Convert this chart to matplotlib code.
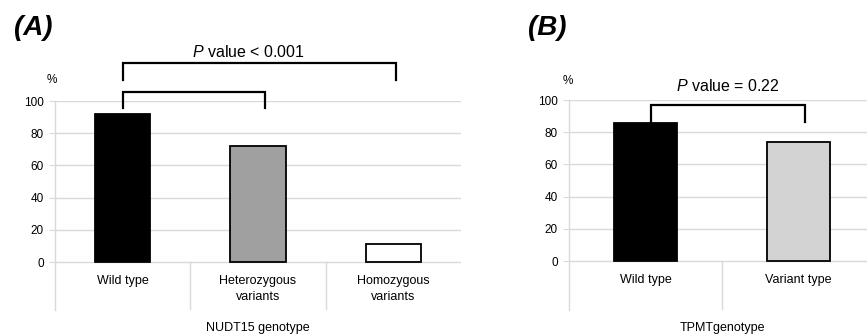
import matplotlib
matplotlib.use("Agg")
import matplotlib.pyplot as plt

plt.rcParams['font.family'] = ['Liberation Sans', 'DejaVu Sans']
plt.rcParams['mathtext.fontset'] = 'custom'
plt.rcParams['mathtext.rm'] = 'Liberation Sans'
plt.rcParams['mathtext.it'] = 'Liberation Sans:italic'

# data
nudt_labels = ['Wild type', 'Heterozygous\nvariants', 'Homozygous\nvariants']
nudt_values = [92, 72, 11]
nudt_colors = ['#000000', '#a0a0a0', '#ffffff']

tpmt_labels = ['Wild type', 'Variant type']
tpmt_values = [86, 74]
tpmt_colors = ['#000000', '#d3d3d3']

yticks = [0, 20, 40, 60, 80, 100]
grid_col = '#d9d9d9'
W, H = 867, 336

fig = plt.figure(figsize=(W / 100, H / 100), dpi=100)


def panel(rect, labels, values, colors, ybottom, xlabel):
    ax = fig.add_axes(rect)
    n = len(values)
    x = list(range(n))
    ax.bar(x, values, width=0.41, color=colors, edgecolor='black', linewidth=1.3, zorder=3)
    ax.set_xlim(-0.5, n - 0.5)
    ax.set_ylim(ybottom, 100)
    ax.set_yticks(yticks)
    ax.set_yticklabels([str(t) for t in yticks], fontsize=8.5)
    ax.tick_params(axis='y', length=4, color=grid_col, pad=4)
    ax.set_xticks([])
    for s in ['top', 'right', 'bottom']:
        ax.spines[s].set_visible(False)
    ax.spines['left'].set_color(grid_col)
    ax.spines['left'].set_linewidth(1)
    for t in yticks:
        ax.axhline(t, color=grid_col, lw=1, zorder=1)
    # category separators below zero
    for i in range(1, n):
        ax.plot([i - 0.5, i - 0.5], [ybottom, 0], color=grid_col, lw=1)
    for i, lab in enumerate(labels):
        ax.text(i, -8.3, lab, ha='center', va='top', fontsize=9, linespacing=1.35)
    cx = rect[0] + rect[2] / 2
    fig.text(cx, 1 - 328 / H, xlabel, ha='center', va='center', fontsize=9)
    return ax


axA = panel([55 / W, 1 - 310 / H, 406 / W, 209 / H], nudt_labels, nudt_values,
            nudt_colors, -29.8, 'NUDT15 genotype')
axB = panel([569 / W, 1 - 310 / H, 306 / W, 210 / H], tpmt_labels, tpmt_values,
            tpmt_colors, -30.4, 'TPMTgenotype')


def bracket(ax, x0, x1, ytop, yleg):
    ax.plot([x0, x0, x1, x1], [yleg, ytop, ytop, yleg], color='black', lw=1.6,
            clip_on=False, solid_joinstyle='miter', zorder=5)


bracket(axA, 0, 2.02, 123.6, 113)
bracket(axA, 0, 1.05, 105.6, 95.7)
bracket(axB, 0.036, 1.04, 96.9, 86.3)

fig.text(248 / W, 1 - 52 / H, r'$\mathit{P}$ value < 0.001', ha='center', va='center', fontsize=11.5)
fig.text(728 / W, 1 - 86 / H, r'$\mathit{P}$ value = 0.22', ha='center', va='center', fontsize=11.5)

fig.text(52 / W, 1 - 80 / H, '%', ha='center', va='center', fontsize=8.5)
fig.text(568 / W, 1 - 81 / H, '%', ha='center', va='center', fontsize=8.5)

fig.text(33 / W, 1 - 28 / H, '(A)', ha='center', va='center', fontsize=20,
         fontweight='bold', fontstyle='italic')
fig.text(547 / W, 1 - 28 / H, '(B)', ha='center', va='center', fontsize=20,
         fontweight='bold', fontstyle='italic')

fig.savefig('out.png', dpi=100)
